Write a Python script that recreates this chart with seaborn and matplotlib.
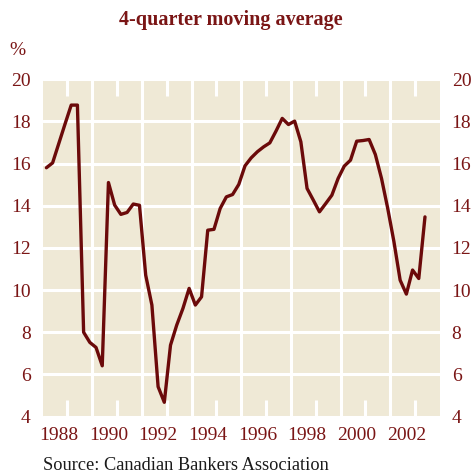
import pandas as pd
import numpy as np
import matplotlib.pyplot as plt
import matplotlib.transforms as mtransforms
import seaborn as sns

# quarterly data, 4-quarter moving average (%)
quarters = pd.period_range('1988Q1', '2003Q2', freq='Q')
values = [15.80, 16.03, 16.95, 17.87, 18.77, 18.77, 8.00, 7.52,
          7.28, 6.41, 15.10, 14.03, 13.59, 13.68, 14.08, 14.02,
          10.71, 9.29, 5.42, 4.68, 7.39, 8.34, 9.13, 10.08,
          9.29, 9.68, 12.84, 12.88, 13.87, 14.42, 14.53, 15.01,
          15.89, 16.27, 16.56, 16.79, 16.98, 17.54, 18.14, 17.85,
          18.01, 17.03, 14.82, 14.27, 13.71, 14.10, 14.50, 15.29,
          15.88, 16.16, 17.06, 17.09, 17.14, 16.43, 15.29, 13.87,
          12.29, 10.47, 9.81, 10.95, 10.55, 13.47]
year_labels = ['1988', '1990', '1992', '1994', '1996', '1998', '2000', '2002']
y_ticks = [4, 6, 8, 10, 12, 14, 16, 18, 20]

df = pd.DataFrame({
    'date': quarters.year + (quarters.quarter - 1) / 4 + 0.15,
    'value': values,
})

red = '#6b0a0a'
txt = '#7a1515'
bg = '#efe9d6'

sns.set_style('white')
plt.rcParams['font.family'] = ['Liberation Serif', 'DejaVu Serif']

fig = plt.figure(figsize=(4.74, 4.74), dpi=100)
ax = fig.add_axes([0.090, 0.121, 0.838, 0.712])
ax.set_facecolor(bg)

sns.lineplot(data=df, x='date', y='value', ax=ax, color=red, linewidth=2.4)

ax.set_xlim(1988, 2004)
ax.set_ylim(4, 20)

# horizontal white grid
ax.set_yticks(y_ticks)
ax.set_yticklabels([str(v) for v in y_ticks])
ax.grid(axis='y', color='white', linewidth=2.2)

# full vertical lines at even years, short ticks at odd years
ax.set_xticks(range(1990, 2003, 2), minor=True)
ax.grid(axis='x', which='minor', color='white', linewidth=2.2)
ax.set_xticks(range(1989, 2004, 2))
ax.set_xticklabels([])
ax.tick_params(axis='x', which='major', direction='in', length=12, width=2.2,
               color='white', top=True, bottom=True)
ax.tick_params(axis='x', which='minor', length=0)
ax.tick_params(axis='y', length=0, labelsize=14, labelcolor=txt,
               labelright=True, pad=8.5)
ax.set_axisbelow(True)
for s in ax.spines.values():
    s.set_visible(False)

trans = mtransforms.blended_transform_factory(ax.transData, ax.transAxes)
for lab in year_labels:
    ax.text(int(lab) + 0.65, -0.032, lab, transform=trans, ha='center', va='top',
            fontsize=14, color=txt)

ax.set_xlabel('')
ax.set_ylabel('')

fig.text(0.488, 0.958, '4-quarter moving average', ha='center', va='center',
         fontsize=14.5, fontweight='bold', color=txt)
fig.text(0.020, 0.893, '%', ha='left', va='center', fontsize=14, color=txt)
fig.text(0.090, 0.017, 'Source: Canadian Bankers Association', ha='left',
         va='center', fontsize=13.2, color='#1a1a1a')

fig.savefig('out.png', dpi=100)
